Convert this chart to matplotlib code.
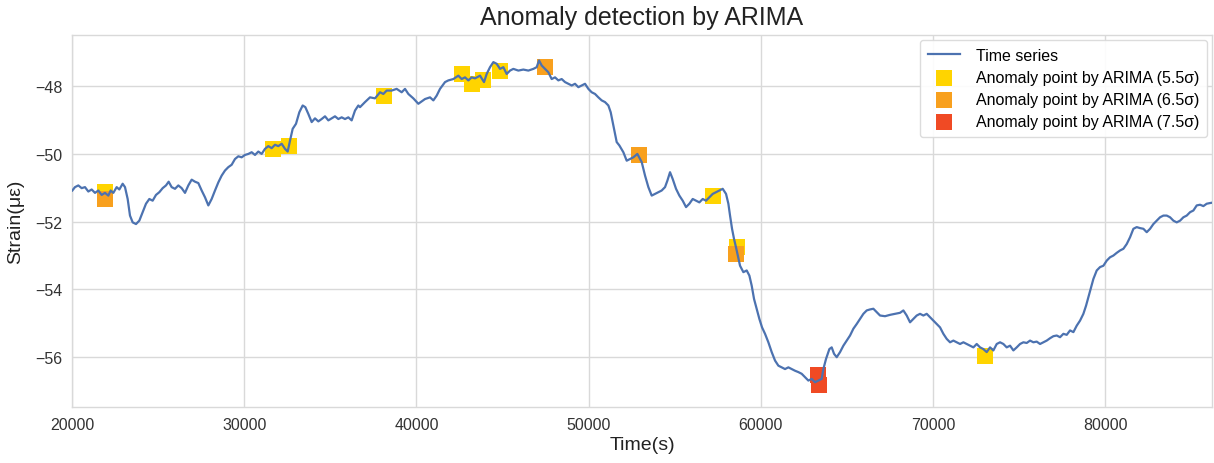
import numpy as np
import matplotlib
matplotlib.use('Agg')
import matplotlib.pyplot as plt

plt.rcParams['font.family'] = ['Liberation Sans', 'DejaVu Sans']

# strain time series (time in s, strain in microstrain)
time_s = [
    20019, 20174, 20368, 20561, 20755, 20948, 21142, 21336, 21529, 21723, 21916, 22110, 22245, 22400,
    22594, 22749, 22942, 23078, 23233, 23368, 23523, 23717, 23910, 24104, 24297, 24491, 24684, 24878,
    25071, 25265, 25458, 25613, 25787, 25981, 26175, 26368, 26562, 26755, 26949, 27143, 27336, 27530,
    27723, 27917, 28110, 28304, 28498, 28691, 28885, 29078, 29272, 29465, 29659, 29852, 30046, 30240,
    30433, 30627, 30820, 31014, 31207, 31401, 31594, 31788, 31981, 32175, 32369, 32524, 32659, 32814,
    33008, 33201, 33395, 33550, 33724, 33918, 34111, 34305, 34498, 34692, 34885, 35079, 35272, 35466,
    35660, 35853, 36047, 36240, 36434, 36627,
    36724, 37014, 37305, 37595, 37885, 38079, 38273, 38563, 38853, 39144, 39337, 39531, 39821, 40111,
    40305, 40499, 40789, 40983, 41176, 41370, 41660, 41854, 42144, 42434, 42628, 42821, 43015, 43208,
    43402, 43693, 43925, 44080, 44273, 44467, 44660, 44854, 45048, 45241, 45435, 45628, 45919, 46209,
    46499, 46790, 46983, 47119, 47274, 47467, 47661, 47854, 48048, 48241, 48435, 48629, 48822, 49016,
    49209, 49403, 49596, 49790, 49984, 50177, 50371, 50564, 50758, 50951, 51145, 51281, 51397, 51513,
    51629, 51784, 52016, 52210, 52403, 52597, 52829, 52984,
    53081, 53275, 53468, 53662, 53855, 54049, 54242, 54436, 54572, 54726, 54881, 55075, 55268, 55462,
    55656, 55849, 56043, 56236, 56430, 56623, 56817, 57011, 57204, 57398, 57591, 57785, 57978, 58114,
    58211, 58327, 58443,
    58598, 58791, 58985, 59178, 59333, 59469, 59604, 59759, 59914, 60069, 60243, 60436, 60630, 60824,
    61017, 61211, 61404, 61598, 61791, 61985, 62179, 62372, 62566, 62759, 62953, 63146, 63340, 63533,
    63630, 63785, 63979, 64114, 64250, 64405, 64598, 64792, 64985, 65179, 65372, 65566, 65760, 65953,
    66147, 66340, 66534, 66727, 66921, 67211, 67502, 67792, 68082,
    68276, 68469, 68663, 68856, 69050, 69243, 69437, 69631, 69824, 70018, 70211, 70405, 70598, 70792,
    70986, 71179, 71373, 71566, 71760, 71953, 72147, 72341, 72534, 72728, 72921, 73115, 73308, 73502,
    73696, 73889, 74083, 74276, 74470, 74663, 74857, 75051, 75244, 75438, 75631, 75825, 76018, 76212,
    76406, 76599, 76793, 76986, 77180, 77373, 77567, 77761, 77954, 78148, 78341, 78535, 78728, 78883,
    79019, 79154, 79309, 79503, 79696, 79890, 80083, 80277, 80470, 80664, 80858, 81051, 81245, 81438,
    81632, 81825, 82019, 82213, 82406, 82600, 82793, 82987, 83180, 83374, 83568, 83761, 83955, 84148,
    84342, 84535, 84729, 84923, 85116, 85310, 85503, 85697, 85890, 86084, 86316,
]
strain = [
    -51.08, -50.98, -50.93, -51.01, -50.98, -51.11, -51.05, -51.15, -51.08, -51.21, -51.15, -51.23, -51.08, -51.15,
    -50.98, -51.05, -50.88, -50.98, -51.33, -51.82, -52.02, -52.07, -51.97, -51.72, -51.47, -51.33, -51.38, -51.21,
    -51.13, -51.01, -50.93, -50.82, -50.98, -51.03, -50.93, -51.01, -51.15, -50.93, -50.76, -50.82, -50.86, -51.08,
    -51.28, -51.52, -51.33, -51.08, -50.84, -50.64, -50.49, -50.39, -50.32, -50.15, -50.07, -50.10, -50.03, -50.00,
    -49.95, -50.03, -49.93, -50.00, -49.85, -49.77, -49.83, -49.73, -49.77, -49.70, -49.85, -49.93, -49.61, -49.26,
    -49.11, -48.77, -48.57, -48.62, -48.82, -49.06, -48.95, -49.04, -48.97, -48.89, -49.01, -48.95, -48.89, -48.97,
    -48.92, -48.97, -48.92, -49.01, -48.72, -48.57,
    -48.62, -48.47, -48.33, -48.36, -48.18, -48.23, -48.13, -48.13, -48.08, -48.18, -48.08, -48.23, -48.36, -48.52,
    -48.45, -48.38, -48.33, -48.42, -48.28, -48.08, -47.88, -47.83, -47.79, -47.69, -47.79, -47.74, -47.83, -47.74,
    -47.77, -47.69, -47.88, -47.64, -47.44, -47.29, -47.34, -47.49, -47.44, -47.64, -47.54, -47.49, -47.54, -47.51,
    -47.54, -47.49, -47.44, -47.24, -47.39, -47.49, -47.59, -47.79, -47.74, -47.83, -47.79, -47.88, -47.93, -47.98,
    -47.93, -48.03, -47.98, -47.93, -48.08, -48.18, -48.23, -48.33, -48.42, -48.47, -48.57, -48.77, -49.06, -49.36,
    -49.65, -49.75, -49.95, -50.20, -50.15, -50.10, -50.00, -50.15,
    -50.24, -50.64, -50.98, -51.23, -51.18, -51.13, -51.08, -50.98, -50.79, -50.54, -50.74, -51.03, -51.23, -51.38,
    -51.57, -51.47, -51.33, -51.38, -51.43, -51.33, -51.38, -51.28, -51.18, -51.13, -51.08, -51.03, -51.18, -51.47,
    -51.82, -52.21, -52.51,
    -52.85, -53.30, -53.49, -53.44, -53.59, -53.89, -54.28, -54.57, -54.87, -55.12, -55.31, -55.56, -55.85, -56.10,
    -56.25, -56.30, -56.35, -56.30, -56.35, -56.40, -56.44, -56.49, -56.59, -56.69, -56.64, -56.74, -56.69, -56.64,
    -56.35, -56.05, -55.76, -55.71, -55.90, -56.00, -55.85, -55.66, -55.51, -55.36, -55.16, -55.02, -54.87, -54.72,
    -54.62, -54.59, -54.57, -54.67, -54.77, -54.79, -54.75, -54.72, -54.69,
    -54.62, -54.77, -54.97, -54.87, -54.77, -54.72, -54.77, -54.72, -54.82, -54.92, -55.02, -55.12, -55.31, -55.46,
    -55.56, -55.51, -55.56, -55.61, -55.56, -55.61, -55.66, -55.71, -55.61, -55.71, -55.76, -55.85, -55.71, -55.80,
    -55.61, -55.56, -55.61, -55.71, -55.66, -55.80, -55.71, -55.61, -55.56, -55.58, -55.51, -55.56, -55.54, -55.61,
    -55.56, -55.51, -55.44, -55.38, -55.36, -55.41, -55.31, -55.34, -55.21, -55.26, -55.07, -54.92, -54.72, -54.48,
    -54.23, -53.98, -53.69, -53.44, -53.34, -53.30, -53.15, -53.05, -53.00, -52.92, -52.85, -52.80, -52.66, -52.46,
    -52.21, -52.16, -52.19, -52.21, -52.31, -52.21, -52.07, -51.97, -51.87, -51.82, -51.82, -51.87, -51.97, -52.02,
    -51.97, -51.87, -51.82, -51.72, -51.67, -51.52, -51.50, -51.54, -51.47, -51.45, -51.43,
]

# anomaly points per threshold
a55_t = [21916, 31653, 32621, 38110, 42628, 43208, 43886, 44854, 57200, 58590, 73012]
a55_y = [-51.13, -49.85, -49.77, -48.30, -47.64, -47.93, -47.83, -47.54, -51.23, -52.75, -55.96]
a65_t = [21916, 47467, 52900, 58580]
a65_y = [-51.33, -47.44, -50.04, -52.95]
a75_t = [63320, 63400]
a75_y = [-56.52, -56.82]

blue = '#4C72B0'
c55, c65, c75 = '#FFD400', '#F8A01E', '#F04A24'

fig, ax = plt.subplots(figsize=(12.14, 4.64), dpi=100)
fig.subplots_adjust(left=0.0593, right=0.9984, top=0.9224, bottom=0.1207)

ax.plot(time_s, strain, color=blue, linewidth=1.6, label='Time series', zorder=3)
ax.scatter(a55_t, a55_y, marker='s', s=120, color=c55, linewidths=0, zorder=2,
           label='Anomaly point by ARIMA (5.5σ)')
ax.scatter(a65_t, a65_y, marker='s', s=120, color=c65, linewidths=0, zorder=2,
           label='Anomaly point by ARIMA (6.5σ)')
ax.scatter(a75_t, a75_y, marker='s', s=120, color=c75, linewidths=0, zorder=2,
           label='Anomaly point by ARIMA (7.5σ)')

ax.set_xlim(20000, 86200)
ax.set_ylim(-57.47, -46.49)
ax.set_xticks(np.arange(20000, 80001, 10000))
ax.set_yticks(np.arange(-56, -47, 2))

ax.grid(True, color='#d9d9d9', linewidth=1.0, zorder=0)
ax.set_axisbelow(True)
for s in ax.spines.values():
    s.set_color('#d9d9d9')
    s.set_linewidth(1.0)
ax.tick_params(length=0, pad=7, labelsize=11.5, colors='#333333')

ax.set_title('Anomaly detection by ARIMA', fontsize=18, color='#222222', pad=8)
ax.set_xlabel('Time(s)', fontsize=14, color='#222222', labelpad=3)
ax.set_ylabel('Strain(με)', fontsize=14, color='#222222', labelpad=8)

leg = ax.legend(loc='upper right', fontsize=11.5, frameon=True, framealpha=0.9,
                edgecolor='#d9d9d9', borderpad=0.5, labelspacing=0.45,
                handlelength=2.0, handletextpad=1.0, borderaxespad=0.3)
leg.get_frame().set_linewidth(1.0)

fig.savefig('out.png', dpi=100)
